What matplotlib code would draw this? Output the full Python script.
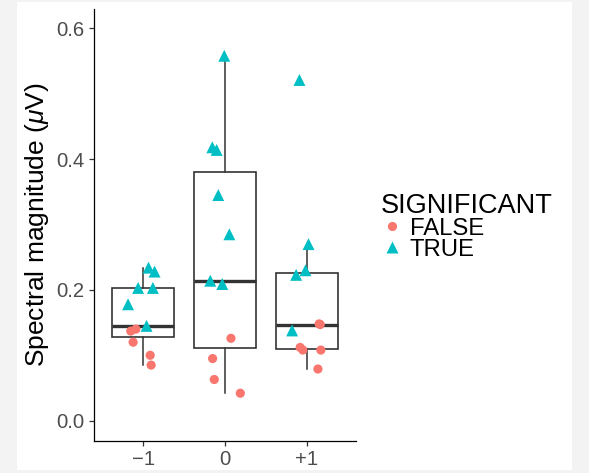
import matplotlib
matplotlib.use("Agg")
import matplotlib.pyplot as plt
from matplotlib.lines import Line2D
from matplotlib.patches import Rectangle

plt.rcParams["font.family"] = ["Liberation Sans", "DejaVu Sans"]
plt.rcParams["mathtext.fontset"] = "custom"
plt.rcParams["mathtext.rm"] = "Liberation Sans"
plt.rcParams["mathtext.it"] = "Liberation Sans:italic"

# lag categories and per-lag values, split by significance
lags = ["\u22121", "0", "+1"]
true_y = [
    [0.178, 0.203, 0.234, 0.228, 0.203, 0.145],
    [0.558, 0.418, 0.414, 0.345, 0.285, 0.214, 0.209],
    [0.521, 0.270, 0.223, 0.230, 0.138],
]
true_dx = [
    [-0.184, -0.061, 0.066, 0.140, 0.119, 0.042],
    [-0.009, -0.155, -0.102, -0.082, 0.053, -0.180, -0.033],
    [-0.091, 0.020, -0.131, -0.017, -0.180],
]
false_y = [
    [0.137, 0.140, 0.120, 0.100, 0.085],
    [0.126, 0.095, 0.063, 0.042],
    [0.147, 0.112, 0.108, 0.108, 0.079, 0.148],
]
false_dx = [
    [-0.151, -0.089, -0.122, 0.086, 0.098],
    [0.073, -0.151, -0.131, 0.187],
    [0.163, -0.082, -0.049, 0.171, 0.135, 0.150],
]

C_FALSE = "#F8766D"
C_TRUE = "#00BFC4"
LINE = "#333333"
TICKTXT = "#4D4D4D"

fig = plt.figure(figsize=(5.89, 4.73), dpi=100, facecolor="#F3F3F3")
# white plotting panel inside the grey page border
fig.patches.append(Rectangle((17 / 589, 3 / 473), 555 / 589, 468 / 473,
                             transform=fig.transFigure, facecolor="white",
                             edgecolor="none", zorder=-10))
ax = fig.add_axes([94 / 589, 32.3 / 473, 262 / 589, 431.7 / 473])
ax.set_facecolor("white")

pos = [1, 2, 3]
groups = [t + f for t, f in zip(true_y, false_y)]
ax.boxplot(groups, positions=pos, widths=0.75, whis=1.5, showfliers=False,
           showcaps=False, patch_artist=True,
           boxprops=dict(facecolor="white", edgecolor=LINE, linewidth=1.2),
           whiskerprops=dict(color=LINE, linewidth=1.1),
           medianprops=dict(color=LINE, linewidth=2.4), zorder=2)

for p, ty, tdx, fy, fdx in zip(pos, true_y, true_dx, false_y, false_dx):
    ax.scatter([p + d for d in fdx], fy, s=6.6 ** 2, marker="o", color=C_FALSE,
               edgecolors="none", zorder=3)
    ax.scatter([p + d for d in tdx], ty, s=8.6 ** 2, marker="^", color=C_TRUE,
               edgecolors="none", zorder=3)

ax.set_xlim(0.4, 3.6)
ax.set_ylim(-0.0306, 0.6295)
ax.set_xticks(pos)
ax.set_xticklabels(lags)
ax.set_yticks([0.0, 0.2, 0.4, 0.6])
ax.set_yticklabels(["0.0", "0.2", "0.4", "0.6"])
ax.tick_params(axis="both", length=3.7, width=0.9, color=LINE,
               labelsize=14.6, labelcolor=TICKTXT, pad=3.2)
for s in ("top", "right"):
    ax.spines[s].set_visible(False)
for s in ("left", "bottom"):
    ax.spines[s].set_linewidth(0.9)
    ax.spines[s].set_color("black")
ax.set_ylabel("Spectral magnitude ($\\mu$V)", fontsize=19, labelpad=3.5)

handles = [
    Line2D([], [], linestyle="none", marker="o", markersize=6.6,
           markerfacecolor=C_FALSE, markeredgecolor="none", label="FALSE"),
    Line2D([], [], linestyle="none", marker="^", markersize=8.6,
           markerfacecolor=C_TRUE, markeredgecolor="none", label="TRUE"),
]
leg = fig.legend(handles=handles, title="SIGNIFICANT", loc="upper left",
                 bbox_to_anchor=(369 / 589, 1 - 181 / 473), frameon=False,
                 fontsize=17.2, title_fontsize=19.5, handlelength=0.9,
                 handletextpad=0.3, labelspacing=-0.05, borderpad=0,
                 alignment="left")

fig.savefig("out.png", dpi=100, facecolor=fig.get_facecolor())
